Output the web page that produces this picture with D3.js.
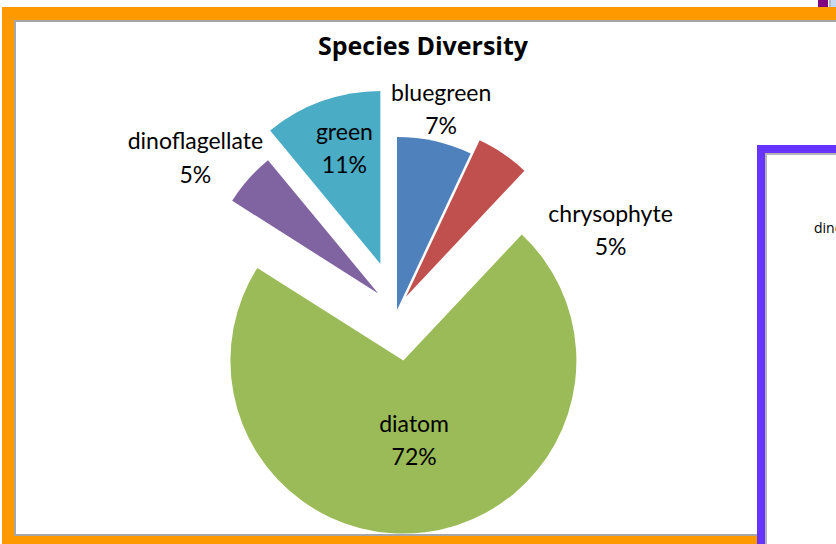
<!DOCTYPE html>
<html>
<head>
<meta charset="utf-8">
<script src="https://cdn.jsdelivr.net/npm/d3@7"></script>
<style>
  body { margin: 0; background: #fff; }
  svg { display: block; }
</style>
</head>
<body>
<svg id="chart" width="836" height="544"></svg>
<script>
// Chart data
const categories = ["bluegreen", "chrysophyte", "diatom", "dinoflagellate", "green"];
const shares = [7, 5, 72, 5, 11];
const sliceColors = ["#4F81BD", "#C0504D", "#9BBB59", "#8064A2", "#4BACC6"];

// How far each slice is pulled out of the pie (px)
const explodePx = [0, 16, 51, 25, 49];
// Label placement: degrees away from the slice bisector, distance from pie centre
const labelTurn = [-0.7, 33.4, -0.8, -2.8, 2.6];
const labelDist = [214, 231, 123, 258, 178];

const svg = d3.select("#chart");
const W = 836, H = 544;
const center = { x: 397, y: 310 };
const radius = 173;

// outer orange frame of the chart
svg.append("rect").attr("x", 2).attr("y", 7).attr("width", W).attr("height", H)
   .attr("fill", "#FF9900");
svg.append("rect").attr("x", 15).attr("y", 21).attr("width", W).attr("height", 514)
   .attr("fill", "#fff").attr("stroke", "#A6A6A6").attr("stroke-width", 2);

// little bits of other objects on the sheet, top right
svg.append("rect").attr("x", 818).attr("y", 0).attr("width", 10).attr("height", 7).attr("fill", "#800080");
svg.append("rect").attr("x", 829).attr("y", 0).attr("width", 2).attr("height", 7).attr("fill", "#B0B8C4");
svg.append("rect").attr("x", 831).attr("y", 0).attr("width", 5).attr("height", 7).attr("fill", "#C6D9F1");

svg.append("text")
   .attr("x", 423).attr("y", 55)
   .attr("text-anchor", "middle")
   .style("font-family", "'Open Sans', sans-serif")
   .style("font-weight", "bold")
   .style("font-size", "25px")
   .text("Species Diversity");

const pie = d3.pie().sort(null).value(d => d);
const arcs = pie(shares);
const arc = d3.arc().innerRadius(0).outerRadius(radius);
const total = d3.sum(shares);

const g = svg.append("g").attr("transform", `translate(${center.x},${center.y})`);

g.selectAll("path.slice")
  .data(arcs)
  .join("path")
  .attr("class", "slice")
  .attr("d", arc)
  .attr("fill", (d, i) => sliceColors[i])
  .attr("transform", (d, i) => {
    const mid = (d.startAngle + d.endAngle) / 2;
    return `translate(${explodePx[i] * Math.sin(mid)},${-explodePx[i] * Math.cos(mid)})`;
  });

// data labels: category name plus percent underneath
const labels = g.selectAll("text.lbl")
  .data(arcs)
  .join("text")
  .attr("class", "lbl")
  .attr("text-anchor", "middle")
  .style("font-family", "Lato, 'Open Sans', sans-serif")
  .style("font-size", "23px")
  .attr("fill", "#000")
  .attr("transform", (d, i) => {
    const a = (d.startAngle + d.endAngle) / 2 + labelTurn[i] * Math.PI / 180;
    return `translate(${labelDist[i] * Math.sin(a)},${-labelDist[i] * Math.cos(a)})`;
  });

labels.append("tspan").attr("x", 0).attr("y", 0).text((d, i) => categories[i]);
labels.append("tspan").attr("x", 0).attr("y", 33.5)
      .text(d => Math.round(d.value / total * 100) + "%");

// the neighbouring chart that overlaps on the right (only its edge is visible)
svg.append("rect").attr("x", 757).attr("y", 145).attr("width", 100).attr("height", 420)
   .attr("fill", "#6633FF");
svg.append("rect").attr("x", 766).attr("y", 154).attr("width", 100).attr("height", 420)
   .attr("fill", "#fff").attr("stroke", "#B4B4B4").attr("stroke-width", 2);
svg.append("text")
   .attr("x", 814).attr("y", 233)
   .style("font-family", "'Open Sans', sans-serif")
   .style("font-size", "14px")
   .text("dinoflagellate");
</script>
</body>
</html>
